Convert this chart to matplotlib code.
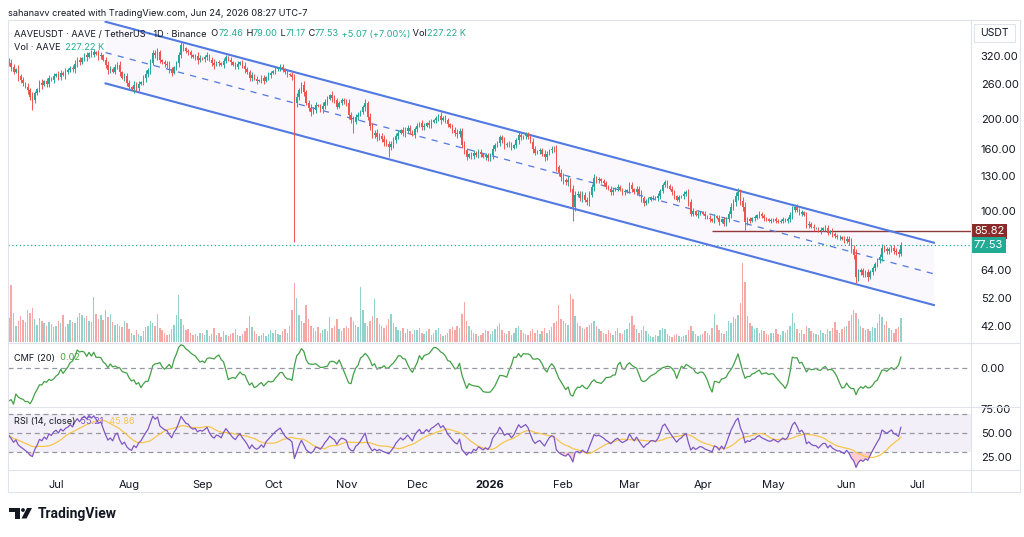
import numpy as np
import pandas as pd
import matplotlib
matplotlib.use("Agg")
import matplotlib.pyplot as plt
import matplotlib.transforms as mtransforms
from matplotlib.patches import Rectangle, Polygon, Circle
from matplotlib.lines import Line2D

plt.rcParams["font.family"] = ["Inter", "DejaVu Sans"]

W, H = 1024, 537

# ---- daily closes (USDT), one row per month ----
close_jun25 = [304, 296, 285, 290, 275, 268, 262, 255, 248, 236, 230, 242, 250, 262, 258, 266, 260, 272, 268, 276]
close_jul25 = [280, 274, 283, 279, 285, 288, 294, 290, 302, 311, 306, 316, 322, 318, 328, 324, 331, 326, 320, 323,
               312, 300, 288, 292, 285, 296, 300, 284, 272, 276, 262]
close_aug25 = [254, 250, 258, 252, 260, 264, 272, 280, 288, 305, 328, 322, 330, 311, 306, 302, 300, 290, 282, 295,
               304, 322, 348, 340, 332, 330, 322, 318, 320, 312, 316]
close_sep25 = [314, 318, 323, 312, 304, 300, 306, 304, 300, 310, 318, 312, 306, 300, 296, 302, 306, 298, 292, 284,
               272, 278, 270, 266, 268, 272, 266, 274, 278, 282]
close_oct25 = [286, 290, 293, 296, 290, 284, 280, 278, 274, 226, 236, 248, 258, 244, 226, 217, 211, 214, 222, 220,
               215, 220, 227, 232, 239, 234, 230, 219, 226, 230, 228]
close_nov25 = [225, 206, 198, 196, 203, 206, 211, 218, 225, 203, 190, 177, 180, 174, 176, 172, 168, 166, 162, 166,
               170, 176, 180, 184, 180, 183, 187, 182, 177, 185]
close_dec25 = [190, 194, 188, 190, 194, 191, 196, 198, 201, 204, 199, 202, 198, 192, 188, 184, 180, 178, 183, 164,
               158, 150, 153, 151, 155, 152, 156, 153, 150, 152, 149]
close_jan26 = [152, 160, 164, 167, 174, 170, 164, 166, 165, 161, 164, 170, 177, 174, 176, 178, 175, 168, 160, 155,
               157, 158, 154, 150, 154, 158, 160, 159, 139, 133, 129]
close_feb26 = [126, 124, 126, 118, 103, 113, 114, 110, 113, 109, 107, 113, 120, 128, 126, 127, 125, 123, 120, 118,
               115, 117, 119, 120, 117, 115, 116, 117]
close_mar26 = [122, 118, 115, 118, 114, 110, 106, 108, 109, 111, 111, 110, 112, 116, 122, 124, 121, 118, 115, 112,
               109, 111, 112, 114, 115, 107, 98, 100, 97, 98, 99]
close_apr26 = [98, 96, 95, 94, 93, 96, 95, 92, 94, 91, 94, 98, 103, 107, 112, 115, 108, 103, 92, 94,
               93, 95, 95, 97, 98, 96, 95, 94, 93, 93]
close_may26 = [94, 93, 92, 93, 94, 93, 94, 97, 101, 103, 101, 98, 99, 97, 90, 91, 89, 88, 88, 86,
               87, 88, 88, 85, 86, 84, 83, 82, 82, 81, 80]
close_jun26 = [81, 79, 75, 72, 61, 63, 64, 62, 63, 61, 63, 65, 67, 69, 71, 76, 75, 74, 75, 76,
               74, 73.5, 72.46, 77.53]

# ---- daily volume (thousand AAVE) ----
vol_jun25 = [230, 540, 280, 150, 200, 250, 210, 190, 300, 280, 320, 220, 160, 230, 200, 180, 150, 190, 170, 140]
vol_jul25 = [150, 200, 180, 260, 140, 170, 210, 190, 180, 240, 280, 260, 230, 250, 200, 190, 430, 270, 220, 260,
             210, 300, 240, 270, 190, 160, 170, 150, 140, 200, 180]
vol_aug25 = [120, 90, 70, 110, 80, 60, 100, 140, 150, 200, 180, 150, 270, 130, 110, 90, 70, 80, 120, 160,
             260, 450, 220, 160, 110, 120, 90, 70, 80, 60, 90]
vol_sep25 = [90, 70, 110, 60, 80, 130, 70, 90, 50, 100, 70, 60, 80, 90, 120, 70, 60, 80, 100, 130,
             250, 140, 100, 80, 60, 70, 90, 60, 80, 110]
vol_oct25 = [90, 110, 80, 70, 100, 120, 90, 150, 300, 560, 420, 260, 200, 180, 350, 220, 150, 130, 100, 140,
             90, 110, 120, 100, 240, 130, 150, 220, 120, 100, 130]
vol_nov25 = [150, 130, 240, 200, 160, 140, 520, 300, 180, 150, 200, 250, 410, 230, 170, 150, 130, 160, 220, 270,
             180, 140, 110, 100, 130, 90, 120, 100, 80, 110]
vol_dec25 = [110, 130, 90, 80, 100, 120, 70, 90, 110, 130, 80, 60, 70, 90, 120, 140, 110, 150, 130, 270,
             380, 200, 150, 110, 90, 80, 60, 70, 90, 110, 100]
vol_jan26 = [80, 100, 120, 150, 180, 110, 90, 80, 100, 70, 90, 130, 150, 110, 90, 80, 70, 100, 120, 90,
             110, 80, 100, 130, 90, 110, 140, 180, 200, 350, 220]
vol_feb26 = [200, 180, 160, 460, 410, 250, 180, 150, 130, 120, 140, 160, 180, 200, 150, 120, 100, 90, 80, 110,
             90, 70, 100, 130, 90, 80, 110, 120]
vol_mar26 = [180, 250, 160, 120, 90, 110, 150, 100, 80, 60, 50, 70, 60, 110, 130, 120, 80, 60, 50, 70,
             80, 60, 50, 60, 70, 110, 150, 100, 80, 60, 70]
vol_apr26 = [80, 100, 90, 70, 130, 270, 160, 110, 90, 80, 100, 200, 180, 240, 220, 260, 370, 750, 570, 250,
             180, 150, 120, 130, 90, 110, 100, 80, 70, 90]
vol_may26 = [90, 120, 80, 70, 100, 90, 110, 150, 280, 180, 120, 90, 110, 80, 150, 130, 100, 90, 80, 70,
             110, 90, 80, 120, 100, 130, 190, 110, 90, 120, 140]
vol_jun26 = [150, 200, 260, 300, 280, 220, 150, 130, 110, 120, 100, 140, 130, 180, 270, 240, 160, 200, 130, 110,
             90, 120, 140, 227.22]

# ---- wick size beyond the body, percent ----
wick_rows = [
    [2, 3, 2, 1, 3, 2, 2, 1, 3, 2, 4, 2, 1, 2, 3, 1, 2, 2, 1, 2],
    [1, 2, 2, 1, 3, 2, 1, 2, 3, 2, 2, 1, 2, 3, 1, 2, 2, 1, 3, 2, 1, 2, 3, 2, 1, 2, 2, 3, 1, 2, 2],
    [2, 1, 3, 2, 2, 1, 2, 3, 2, 3, 2, 2, 3, 2, 1, 2, 2, 3, 2, 1, 2, 3, 2, 2, 1, 2, 2, 1, 2, 3, 2],
    [1, 2, 2, 1, 2, 3, 1, 2, 1, 2, 2, 1, 2, 1, 2, 2, 1, 2, 3, 1, 2, 2, 1, 2, 1, 2, 2, 1, 2, 2],
    [1, 2, 1, 2, 2, 1, 2, 1, 2, 2, 3, 2, 2, 3, 2, 2, 3, 2, 2, 1, 2, 3, 2, 2, 1, 3, 2, 2, 1, 2, 2],
    [2, 3, 2, 3, 2, 2, 1, 2, 3, 2, 3, 2, 2, 3, 2, 2, 3, 2, 2, 2, 3, 2, 2, 1, 2, 3, 2, 2, 1, 2],
    [2, 1, 2, 2, 1, 2, 2, 1, 2, 2, 3, 1, 2, 2, 1, 2, 2, 3, 2, 2, 3, 2, 1, 2, 2, 1, 2, 2, 1, 2, 2],
    [2, 3, 2, 1, 2, 2, 3, 1, 2, 2, 1, 2, 3, 2, 1, 2, 2, 1, 3, 2, 1, 2, 2, 3, 2, 1, 2, 2, 3, 2, 3],
    [3, 2, 3, 2, 3, 3, 2, 2, 3, 2, 2, 3, 2, 3, 2, 2, 1, 2, 2, 1, 2, 2, 1, 2, 1, 2, 2, 1],
    [2, 2, 1, 2, 2, 3, 2, 1, 2, 1, 2, 1, 2, 2, 1, 2, 2, 1, 2, 2, 1, 2, 1, 2, 2, 3, 2, 2, 1, 2, 1],
    [1, 2, 1, 2, 1, 2, 1, 2, 1, 2, 2, 2, 3, 2, 3, 3, 3, 3, 4, 2, 2, 1, 2, 1, 2, 1, 2, 1, 1, 2],
    [1, 2, 1, 1, 2, 1, 2, 2, 3, 2, 2, 1, 2, 1, 2, 2, 1, 2, 1, 1, 2, 1, 2, 2, 1, 2, 2, 1, 2, 1, 2],
    [2, 2, 3, 3, 4, 3, 2, 2, 2, 3, 2, 2, 2, 2, 2, 3, 2, 2, 2, 2, 2, 2, 2, 2],
]

# long wicks: date -> (high, low)
spikes = {
    "2025-06-21": (None, 214),
    "2025-08-23": (356, None),
    "2025-10-10": (None, 79),
    "2025-11-04": (None, 180),
    "2025-11-19": (None, 150),
    "2026-02-05": (None, 93),
    "2026-04-16": (119, None),
    "2026-04-19": (None, 87),
    "2026-06-05": (None, 58),
    "2026-06-24": (79.00, 71.17),
}
first_open = 310

# channel drawn on the chart (date, price)
chan_dates = ["2025-07-22", "2026-07-08"]
chan_upper = [415, 78.8]
chan_lower = [261, 49.3]
level_start = "2026-04-05"
level_price = 85.82
last_price = 77.53

price_ticks = [42, 52, 64, 100, 130, 160, 200, 260, 320]
month_dates = ["2025-07-01", "2025-08-01", "2025-09-01", "2025-10-01", "2025-11-01", "2025-12-01",
               "2026-01-01", "2026-02-01", "2026-03-01", "2026-04-01", "2026-05-01", "2026-06-01", "2026-07-01"]
month_labels = ["Jul", "Aug", "Sep", "Oct", "Nov", "Dec", "2026", "Feb", "Mar", "Apr", "May", "Jun", "Jul"]

# ---- build OHLCV ----
c = np.concatenate([close_jun25, close_jul25, close_aug25, close_sep25, close_oct25, close_nov25, close_dec25,
                    close_jan26, close_feb26, close_mar26, close_apr26, close_may26, close_jun26]).astype(float)
v = np.concatenate([vol_jun25, vol_jul25, vol_aug25, vol_sep25, vol_oct25, vol_nov25, vol_dec25,
                    vol_jan26, vol_feb26, vol_mar26, vol_apr26, vol_may26, vol_jun26]).astype(float)
wk = np.concatenate(wick_rows).astype(float)
dates = pd.date_range("2025-06-11", "2026-06-24", freq="D")
t0 = pd.Timestamp("2025-07-01")
days = (dates - t0).days.values.astype(float)


def dnum(s):
    return (pd.Timestamp(s) - t0).days


o = np.r_[first_open, c[:-1]]
hi = np.maximum(o, c) * (1 + wk / 100)
lo = np.minimum(o, c) * (1 - wk / 100)
for d, (h_, l_) in spikes.items():
    i = int(np.where(dates == pd.Timestamp(d))[0][0])
    if h_ is not None:
        hi[i] = h_
    if l_ is not None:
        lo[i] = l_

up = c >= o
UP, DN = "#26a69a", "#ef5350"
col = np.where(up, UP, DN)

# RSI(14), Wilder smoothing, started from a neutral state
dlt = np.diff(c, prepend=first_open)
ag = al = np.abs(dlt[:14]).mean() / 2
rsi = []
for x in dlt:
    ag = (ag * 13 + max(x, 0)) / 14
    al = (al * 13 + max(-x, 0)) / 14
    rsi.append(100 - 100 / (1 + ag / al))
rsi = pd.Series(rsi)
rsi_ma = rsi.rolling(14, min_periods=1).mean()
mfm = ((c - lo) - (hi - c)) / (hi - lo)
cmf = (pd.Series(mfm * v).rolling(20, min_periods=1).sum() / pd.Series(v).rolling(20, min_periods=1).sum())

# ---- figure ----
fig = plt.figure(figsize=(W / 100, H / 100), dpi=100)
fig.patch.set_facecolor("white")


def box(x0, y0, x1, y1):
    return [x0 / W, 1 - y1 / H, (x1 - x0) / W, (y1 - y0) / H]


XL = ((8 - 56) / 2.36, (971 - 56) / 2.36)
DARK = "#131722"
TEAL = "#22ab94"
GRID = "#e0e3eb"

ax_vol = fig.add_axes(box(8, 20, 971, 342))
ax = fig.add_axes(box(8, 20, 971, 342))
ax_cmf = fig.add_axes(box(8, 343, 971, 406))
ax_rsi = fig.add_axes(box(8, 407, 971, 470))
ax.set_facecolor("none")

for a in (ax_vol, ax, ax_cmf, ax_rsi):
    a.set_xlim(*XL)
    for s in a.spines.values():
        s.set_visible(False)
    a.tick_params(length=0)
    a.set_xticks([])

# volume
ax_vol.bar(days, v, width=0.62, color=col, alpha=0.5, linewidth=0)
ax_vol.set_ylim(0, v.max() * 322 / 79)
ax_vol.set_yticks([])

# channel
cx = [dnum(d) for d in chan_dates]
mid = np.sqrt(np.array(chan_upper) * np.array(chan_lower))
ax.fill_between(cx, chan_lower, chan_upper, color="#faf7fd", zorder=0, linewidth=0)
ax.plot(cx, chan_upper, color="#5179e0", lw=1.5, zorder=3)
ax.plot(cx, chan_lower, color="#5179e0", lw=1.5, zorder=3)
ax.plot(cx, mid, color="#5179e0", lw=0.9, ls=(0, (5, 5)), zorder=3)

# candles
ax.vlines(days, lo, hi, colors=col, lw=0.7, zorder=4)
body_lo = np.minimum(o, c)
body_h = np.maximum(np.abs(c - o), c * 0.003)
ax.bar(days, body_h, bottom=body_lo, width=0.62, color=col, linewidth=0, zorder=5)

ax.hlines(level_price, dnum(level_start), XL[1], color="#8f3a3a", lw=1, zorder=2)
ax.axhline(last_price, color=TEAL, lw=0.9, ls=(0, (1, 2)), zorder=2)

ax.set_yscale("log")
ax.set_ylim(37.35, 420.5)
ax.yaxis.tick_right()
ax.yaxis.set_major_locator(matplotlib.ticker.FixedLocator(price_ticks))
ax.yaxis.set_minor_locator(matplotlib.ticker.NullLocator())
ax.set_yticklabels([f"{p:.2f}" for p in price_ticks])
ax.tick_params(axis="y", length=0, pad=7, labelsize=8, labelcolor=DARK)

tr = mtransforms.blended_transform_factory(ax.transAxes, ax.transData)
ax.text(1.003, level_price, f"{level_price:.2f}", transform=tr, ha="left", va="center", color="white",
        fontsize=8, bbox=dict(boxstyle="square,pad=0.25", fc="#8b2a2a", ec="none"), zorder=10)
ax.text(1.003, last_price, f"{last_price:.2f}", transform=tr, ha="left", va="center", color="white",
        fontsize=8, bbox=dict(boxstyle="square,pad=0.25", fc=TEAL, ec="none"), zorder=10)

# CMF pane
ax_cmf.plot(days, cmf, color="#43a047", lw=0.9)
ax_cmf.axhline(0, color="#9598a1", lw=0.9, ls=(0, (4, 3)))
span = cmf.max() - cmf.min()
ax_cmf.set_ylim(cmf.min() - 0.03 * span, cmf.max() + 0.03 * span)
ax_cmf.yaxis.tick_right()
ax_cmf.set_yticks([0])
ax_cmf.set_yticklabels(["0.00"])
ax_cmf.tick_params(axis="y", pad=7, labelsize=8, labelcolor=DARK)

# RSI pane
ax_rsi.axhspan(30, 70, color="#7e57c2", alpha=0.09, linewidth=0)
for lvl in (70, 50, 30):
    ax_rsi.axhline(lvl, color="#9598a1", lw=0.9, ls=(0, (4, 3)))
ax_rsi.plot(days, rsi_ma, color="#f7c64b", lw=0.9)
ax_rsi.plot(days, rsi, color="#7e57c2", lw=0.9)
ax_rsi.fill_between(days, rsi, 30, where=rsi < 30, color="#f23645", alpha=0.25, linewidth=0, interpolate=True)
ax_rsi.set_ylim(11.5, 77)
ax_rsi.yaxis.tick_right()
ax_rsi.set_yticks([25, 50, 75])
ax_rsi.set_yticklabels(["25.00", "50.00", "75.00"])
ax_rsi.tick_params(axis="y", pad=7, labelsize=8, labelcolor=DARK)
ax_rsi.set_xticks([dnum(d) for d in month_dates])
ax_rsi.set_xticklabels(month_labels)
ax_rsi.tick_params(axis="x", pad=7, labelsize=8, labelcolor=DARK)
for lab in ax_rsi.get_xticklabels():
    if lab.get_text() == "2026":
        lab.set_fontweight("bold")

# overlay for texts and frame, above every pane
ov = fig.add_axes([0, 0, 1, 1])
ov.set_axis_off()
ov.set_xlim(0, W)
ov.set_ylim(H, 0)


def fline(x0, y0, x1, y1, color=GRID, lw=0.8):
    ov.plot([x0, x1], [y0, y1], color=color, lw=lw)


fline(7.5, 20, 1020, 20)
fline(7.5, 20, 7.5, 492)
fline(7.5, 342.5, 1020, 342.5)
fline(7.5, 406.5, 1020, 406.5)
fline(7.5, 470, 1020, 470)
fline(7.5, 492, 1020, 492)
fline(971, 20, 971, 492)
fline(1020, 20, 1020, 492)


def chain(parts, x, y, size):
    t = ov.text(x, y, parts[0][0], color=parts[0][1], fontsize=size, va="center", ha="left")
    for s, cc in parts[1:]:
        t = ov.annotate(s, xy=(1, 0.5), xycoords=t, va="center", ha="left", color=cc, fontsize=size,
                        annotation_clip=False)
    return t


FS = 6.6
ov.text(8, 13, "sahanavv created with TradingView.com, Jun 24, 2026 08:27 UTC-7",
        color=DARK, fontsize=FS, va="center", ha="left")
chain([("AAVEUSDT · AAVE / TetherUS · 1D · Binance", DARK), ("  O", DARK), ("72.46", TEAL),
       (" H", DARK), ("79.00", TEAL), (" L", DARK), ("71.17", TEAL), (" C", DARK), ("77.53", TEAL),
       (" +5.07 (+7.00%)", TEAL), (" Vol", DARK), ("227.22 K", TEAL)], 14, 34, FS)
chain([("Vol · AAVE", DARK), ("  227.22 K", TEAL)], 14, 47, FS)
chain([("CMF (20)", DARK), ("  0.02", "#43a047")], 14, 358, FS)
chain([("RSI (14, close)", DARK), ("  55.21", "#7e57c2"), ("  45.86", "#f7c64b")], 14, 421, FS)

# USDT header box on the price scale
ov.add_patch(Rectangle((974, 24), 41, 18, fc="white", ec=GRID, lw=0.8))
ov.text(994.5, 33, "USDT", color=DARK, fontsize=7.5, ha="center", va="center")

# TradingView logo
ov.add_patch(Polygon([(9, 508), (20, 508), (20, 518.5), (15, 518.5), (15, 512), (9, 512)],
                     closed=True, fc=DARK, ec="none"))
ov.add_patch(Circle((23, 510), 1.9, fc=DARK, ec="none"))
ov.add_patch(Polygon([(21.5, 518.5), (27, 508), (32, 508), (26.5, 518.5)], closed=True, fc=DARK, ec="none"))
ov.text(38, 514, "TradingView", color=DARK, fontsize=10, fontweight="bold",
        family=["Roboto", "DejaVu Sans"], ha="left", va="center")

fig.savefig("out.png", dpi=100)
